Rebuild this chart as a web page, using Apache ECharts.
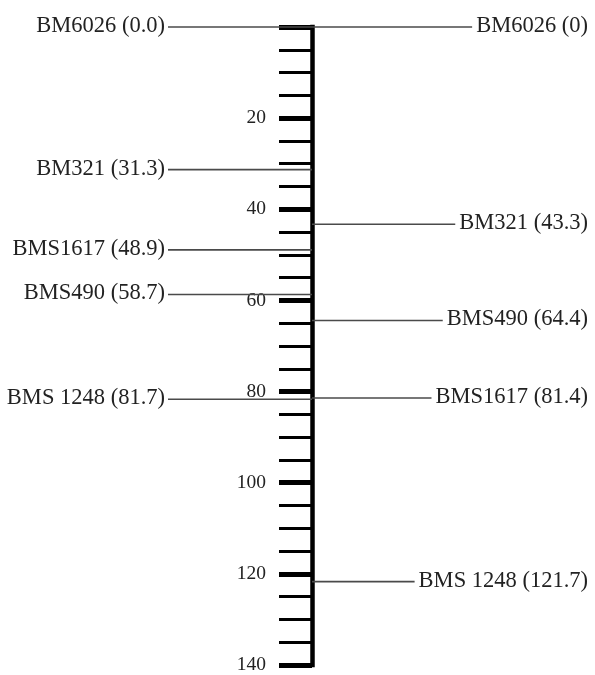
<!DOCTYPE html>
<html>
<head>
<meta charset="utf-8">
<script src="https://cdn.jsdelivr.net/npm/echarts@6/dist/echarts.min.js"></script>
<style>
html,body{margin:0;padding:0;background:#fff;}
#chart{width:595px;height:675px;}
</style>
</head>
<body>
<div id="chart"></div>
<script>
// Data
const leftNames = ['BM6026', 'BM321', 'BMS1617', 'BMS490', 'BMS 1248'];
const leftPos = [0.0, 31.3, 48.9, 58.7, 81.7];
const rightNames = ['BM6026', 'BM321', 'BMS490', 'BMS1617', 'BMS 1248'];
const rightPos = [0, 43.3, 64.4, 81.4, 121.7];
const axisMin = 0, axisMax = 140, majorStep = 20;

const FONT = '"Liberation Serif", "Times New Roman", serif';
const LABEL_SIZE = 22.5;
const TEXT_COLOR = '#222';
const LINE_COLOR = '#4a4a4a';

const leftLabels = leftNames.map((n, i) => n + ' (' + leftPos[i].toFixed(1) + ')');
const rightLabels = rightNames.map((n, i) => n + ' (' + String(rightPos[i]) + ')');

const mctx = document.createElement('canvas').getContext('2d');
mctx.font = LABEL_SIZE + 'px ' + FONT;
function textW(s) { return mctx.measureText(s).width; }

const chart = echarts.init(document.getElementById('chart'), null, {renderer: 'canvas'});

function makeRender(side, labels) {
  return function (params, api) {
    const v = api.value(1);
    const p = api.coord([0, v]);
    const label = labels[params.dataIndex];
    let x1, x2, tx, align;
    if (side === 'left') {
      x1 = 168; x2 = p[0]; tx = 165; align = 'right';
    } else {
      tx = 588; align = 'right';
      x1 = p[0]; x2 = tx - textW(label) - 4;
    }
    return {
      type: 'group',
      children: [
        {type: 'line', shape: {x1: x1, y1: p[1], x2: x2, y2: p[1]},
         style: {stroke: LINE_COLOR, lineWidth: 1.6}},
        {type: 'text', x: tx, y: p[1] - 1,
         style: {text: label, fill: TEXT_COLOR, font: LABEL_SIZE + 'px ' + FONT,
                 textAlign: align, textVerticalAlign: 'middle'}}
      ]
    };
  };
}

chart.setOption({
  animation: false,
  backgroundColor: '#fff',
  grid: {left: 312, top: 27, width: 1, height: 645},
  xAxis: {type: 'value', min: 0, max: 1, show: false},
  yAxis: {
    type: 'value', min: axisMin, max: axisMax, interval: majorStep, inverse: true,
    position: 'left',
    axisLine: {show: true, lineStyle: {color: '#000', width: 4.5, cap: 'square'}},
    axisTick: {show: true, inside: false, length: 33, lineStyle: {color: '#000', width: 5}},
    minorTick: {show: true, splitNumber: 4, length: 33, lineStyle: {color: '#000', width: 3}},
    axisLabel: {margin: 46, fontFamily: FONT, fontSize: 19.5, color: TEXT_COLOR,
                formatter: v => (v === 0 ? '' : String(v))},
    splitLine: {show: false}
  },
  series: [
    {type: 'custom', clip: false, renderItem: makeRender('left', leftLabels),
     data: leftPos.map(v => [0, v]), z: 1},
    {type: 'custom', clip: false, renderItem: makeRender('right', rightLabels),
     data: rightPos.map(v => [0, v]), z: 1}
  ]
});
</script>
</body>
</html>
